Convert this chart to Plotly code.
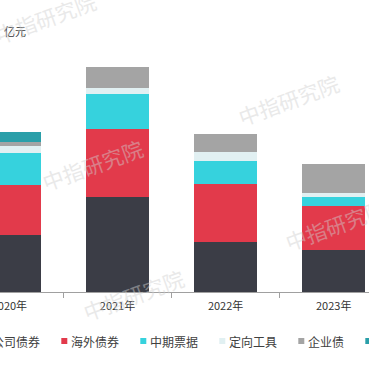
import plotly.graph_objects as go

# ---- data (亿元) ----
years = ["2020年", "2021年", "2022年", "2023年"]
series_names = ["公司债券", "海外债券", "中期票据", "定向工具", "企业债", "短期融资券"]
corp_bond = [2280, 3810, 2000, 1680]
overseas_bond = [2000, 2710, 2320, 1770]
mtn = [1290, 1390, 920, 360]
ppn = [270, 260, 360, 160]
enterprise_bond = [170, 840, 720, 1150]
short_term = [400, 0, 0, 0]
series_values = [corp_bond, overseas_bond, mtn, ppn, enterprise_bond, short_term]
series_colors = ["#3b3d46", "#e23a4b", "#36d2dd", "#e1f0f2", "#a4a4a4", "#2a9fa9"]

W, H = 369, 369
PLOT_H = 292
Y_MAX = 11680

fig = go.Figure()
for name, vals, col in zip(series_names, series_values, series_colors):
    fig.add_trace(go.Bar(
        x=years, y=vals, name=name, marker=dict(color=col, line=dict(width=0)),
        width=0.583, showlegend=False, hoverinfo="x+y+name",
    ))

FONT = "Noto Sans CJK SC, Microsoft YaHei, sans-serif"
LEG_FONT_SIZE = 12

annotations = []
shapes = []

# unit label
annotations.append(dict(
    text="亿元", xref="paper", yref="paper", x=2 / W, y=(PLOT_H - 31) / PLOT_H,
    xanchor="left", yanchor="middle", showarrow=False,
    font=dict(family=FONT, size=11, color="#333333"),
))

# legend (manual, horizontal, partially cropped like the reference)
leg_y_px = 341
tx = -9.2
for name, col in zip(series_names, series_colors):
    annotations.append(dict(
        text=name, xref="paper", yref="paper", x=(tx - 1) / W,
        y=(PLOT_H - leg_y_px) / PLOT_H, xanchor="left", yanchor="middle",
        showarrow=False, font=dict(family=FONT, size=LEG_FONT_SIZE, color="#404040"),
    ))
    shapes.append(dict(
        type="rect", xref="paper", yref="paper",
        x0=(tx - 8.5) / W, x1=(tx - 2.5) / W,
        y0=(PLOT_H - 344) / PLOT_H, y1=(PLOT_H - 338) / PLOT_H,
        fillcolor=col, line=dict(width=0),
    ))
    tx += len(name) * LEG_FONT_SIZE + 31

# faint watermarks
wm_pos = [(45, 18), (92, 165), (288, 100), (133, 295), (335, 225)]
for (wx, wy) in wm_pos:
    annotations.append(dict(
        text="中指研究院", xref="paper", yref="paper", x=wx / W,
        y=(PLOT_H - wy) / PLOT_H, xanchor="center", yanchor="middle",
        showarrow=False, textangle=-20, opacity=0.45,
        font=dict(family=FONT, size=21, color="#d0d0d0"),
    ))

fig.update_layout(
    width=W, height=H,
    margin=dict(l=0, r=0, t=0, b=H - PLOT_H, autoexpand=False),
    barmode="stack",
    paper_bgcolor="white", plot_bgcolor="white",
    showlegend=False,
    annotations=annotations,
    shapes=shapes,
    font=dict(family=FONT),
)
fig.update_xaxes(
    type="category", categoryorder="array", categoryarray=years,
    range=[-0.087, 3.3265], showline=True, linecolor="#a0a0a0", linewidth=1,
    ticks="outside", tickson="boundaries", ticklen=5, tickcolor="#a0a0a0",
    ticklabelstandoff=4,
    tickfont=dict(family=FONT, size=11, color="#333333"),
    showgrid=False, zeroline=False, automargin=False, fixedrange=True,
)
fig.update_yaxes(
    range=[0, Y_MAX], visible=False, showgrid=False, zeroline=False, fixedrange=True,
)

fig.write_html(
    "out.html",
    config={"displayModeBar": False},
    post_script="document.body.style.margin='0';document.body.style.overflow='hidden';",
)
